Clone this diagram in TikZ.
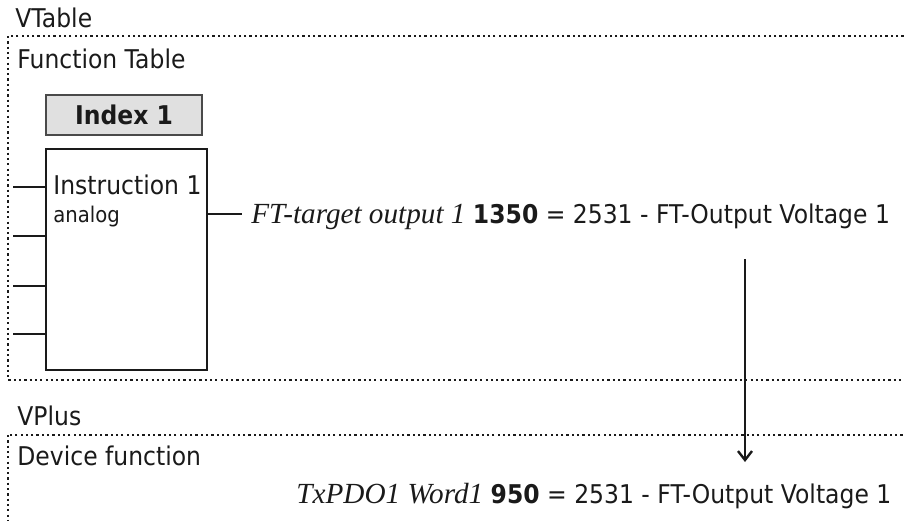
\documentclass[tikz,border=0pt]{standalone}
\usepackage{fontspec}
\setmainfont{DejaVu Sans}[FakeStretch=0.91]
\newfontfamily\serifit{Liberation Serif}
\usetikzlibrary{arrows.meta,positioning}
\definecolor{ink}{HTML}{1A1A1A}
\definecolor{idxfill}{HTML}{E0E0E0}
\definecolor{idxline}{HTML}{4A4A4A}
\newcommand{\lblsize}{\fontsize{12.9}{15.5}\selectfont}
\newcommand{\subsize}{\fontsize{10.8}{12.5}\selectfont}
\newcommand{\varname}[1]{{\serifit\itshape\fontsize{14.6}{17}\selectfont #1}}

\begin{document}
\begin{tikzpicture}[x=0.5pt,y=-0.5pt, every node/.style={inner sep=0pt,text=ink},
  frame/.style={draw=ink,line width=1.1pt,dash pattern=on 1.1pt off 1.55pt},
  wire/.style={draw=ink,line width=1.2pt},
  arr/.style={-{Straight Barb[length=4.5pt,width=7pt]},line width=1.2pt,draw=ink},
  txt/.style={anchor=base west,font=\lblsize},
  idxbox/.style={draw=idxline,fill=idxfill,line width=0.9pt,minimum width=78pt,minimum height=20pt,font=\lblsize\bfseries},
  instbox/.style={draw=ink,line width=1.2pt,minimum width=80.5pt,minimum height=110.5pt,anchor=north west}]
\useasboundingbox (0,0) rectangle (904,520);
\clip (0,0) rectangle (904,520);
% upper group
\node[txt] (vtable) at (15,27) {VTable};
\draw[frame] (8,36) rectangle (920,380);
\node[txt] (ftable) at (17,68) {Function Table};
\node[idxbox] (index) at (124,115) {Index 1};
\node[instbox] (instr) at (45,148) {};
\node[txt] (instrname) at (53,194) {Instruction 1};
\node[txt,font=\subsize] (instrkind) at (53,222) {analog};
\foreach \y in {187,236,286,334}{
  \coordinate (in\y) at (13,\y);
  \draw[wire] (in\y) -- (in\y -| instr.west);
}
\node[txt] (ftout) at (251,223) {\varname{FT-target output 1} \textbf{1350} = 2531 - FT-Output Voltage 1};
\coordinate (outend) at (242,214);
\draw[wire] (outend -| instr.east) -- (outend);
% lower group
\node[txt] (vplus) at (17,425) {VPlus};
\draw[frame] (8,435) rectangle (920,540);
\node[txt] (devfn) at (17,465) {Device function};
\node[txt] (pdo) at (296,503) {\varname{TxPDO1 Word1} \textbf{950} = 2531 - FT-Output Voltage 1};
% mapping
\coordinate (drop) at (745,259);
\coordinate (land) at (745,462);
\draw[arr] (drop) -- (land);
\end{tikzpicture}
\end{document}
